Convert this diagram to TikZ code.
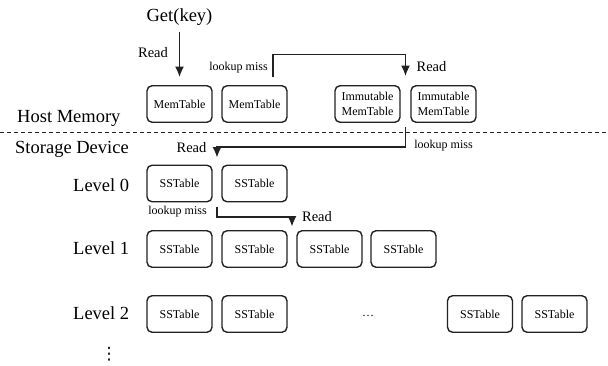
\documentclass[tikz,border=0pt]{standalone}
\usepackage{fontspec}
\setmainfont{Liberation Serif}
\newfontfamily\symfont{DejaVu Sans}
\usetikzlibrary{arrows.meta,calc}
\definecolor{ink}{HTML}{222222}
\tikzset{
  tbl/.style={draw=ink, line width=1.4pt, rounded corners=5pt, minimum width=65pt,
    minimum height=36.5pt, inner sep=0pt, align=center,
    font=\fontsize{12}{15}\selectfont},
  bigtxt/.style={font=\fontsize{18.5}{22}\selectfont, inner sep=0pt},
  readtxt/.style={font=\fontsize{14.5}{17}\selectfont, inner sep=0pt},
  misstxt/.style={font=\fontsize{12}{14}\selectfont, inner sep=0pt},
  arr/.style={draw=ink, line width=1.4pt, -{Latex[length=10.5pt,width=9pt]}},
  sep/.style={draw=ink, line width=1pt, dash pattern=on 4pt off 3pt}
}
\begin{document}
\begin{tikzpicture}[x=1pt,y=-1pt]
\useasboundingbox (0,0) rectangle (608,365);

% host memory tables
\node[tbl] (m1)  at (179.5,104) {MemTable};
\node[tbl] (m2)  at (254.5,104) {MemTable};
\node[tbl] (im1) at (367.5,104) {Immutable\\MemTable};
\node[tbl] (im2) at (443.5,104) {Immutable\\MemTable};

% level 0
\node[tbl] (a0) at (179.5,183.5) {SSTable};
\node[tbl] (a1) at (254.5,183.5) {SSTable};
% level 1
\node[tbl] (b0) at (179.5,249) {SSTable};
\node[tbl] (b1) at (254.5,249) {SSTable};
\node[tbl] (b2) at (329.5,249) {SSTable};
\node[tbl] (b3) at (403.5,249) {SSTable};
% level 2
\node[tbl] (c0) at (179.5,314) {SSTable};
\node[tbl] (c1) at (254.5,314) {SSTable};
\node[misstxt, anchor=base] (cdots) at (368,316) {…};
\node[tbl] (c4) at (480,314) {SSTable};
\node[tbl] (c5) at (554.5,314) {SSTable};

% side labels
\node[bigtxt, anchor=base] (get) at (179.5,21.5) {Get(key)};
\node[bigtxt, anchor=base west] (host) at (17,122) {Host Memory};
\node[bigtxt, anchor=base west] (stor) at (15,153) {Storage Device};
\node[bigtxt, anchor=west] (l0) at (73,185) {Level 0};
\node[bigtxt, anchor=west] (l1) at (73,248) {Level 1};
\node[bigtxt, anchor=west] (l2) at (73,313) {Level 2};
\node[inner sep=0pt, font=\symfont\fontsize{17}{17}\selectfont] (vd) at (109,354) {⋮};

% memory / storage boundary
\coordinate (sepL) at (0,132);
\coordinate (sepR) at (608,132);
\draw[sep] (sepL) -- (sepR);

% gap points between neighbouring tables
\coordinate (gimT) at ($(im1.north east)!0.5!(im2.north west)$);
\coordinate (gimB) at ($(im1.south east)!0.5!(im2.south west)$);
\coordinate (gaT) at ($(a0.north east)!0.5!(a1.north west)$);
\coordinate (gaB) at ($(a0.south east)!0.5!(a1.south west)$);
\coordinate (gbT) at ($(b1.north east)!0.5!(b2.north west)$);

% read path
\draw[arr] ([yshift=-10pt]get.base) -- ([yshift=8pt]m1.north);
\node[readtxt] (r1) at (153,53) {Read};

\draw[arr] ([xshift=18.5pt,yshift=8pt]m2.north) |- ([yshift=30.5pt]gimT) -- ([yshift=9pt]gimT);
\node[misstxt] (lm1) at (238.5,68) {lookup miss};
\node[readtxt] (r2) at (431.5,67) {Read};

\draw[arr] ([yshift=-4pt]gimB) -- ([yshift=-24pt]gimB) -| ([yshift=7pt]gaT);
\node[misstxt] (lm2) at (443.5,146) {lookup miss};
\node[readtxt] (r3) at (191.5,148) {Read};

\draw[arr] ([yshift=-5pt]gaB) -- ([yshift=-14.5pt]gaB) -| ([yshift=3.5pt]gbT);
\node[misstxt] (lm3) at (177.5,212) {lookup miss};
\node[readtxt] (r4) at (317,217) {Read};
\end{tikzpicture}
\end{document}
